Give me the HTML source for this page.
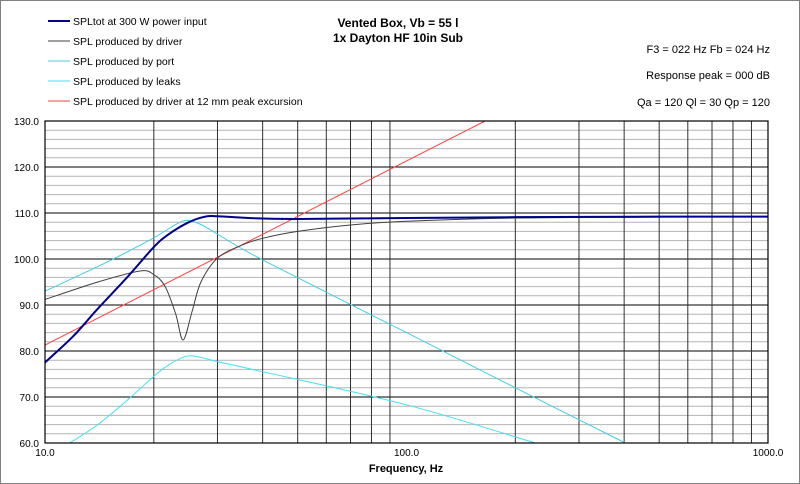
<!DOCTYPE html>
<html><head><meta charset="utf-8"><style>
html,body{margin:0;padding:0;background:#fff}
svg{display:block;font-family:"Liberation Sans",Arial,sans-serif}
</style></head><body>
<svg id="chart" width="800" height="484" viewBox="0 0 800 484">
<rect x="0.5" y="0.5" width="799" height="483" fill="#fff" stroke="#808080"/>
<g id="grid"></g>
<g id="series"></g>
<rect x="45" y="121" width="723" height="322" fill="none" stroke="#000" stroke-width="1.2"/>
<g id="ticks" font-size="10" fill="#000"></g>
<text x="406" y="472" text-anchor="middle" font-size="11" font-weight="bold">Frequency, Hz</text>
<g font-size="12" font-weight="bold" text-anchor="middle">
<text x="398" y="27">Vented Box, Vb = 55 l</text>
<text x="398" y="42">1x Dayton HF 10in Sub</text>
</g>
<g font-size="11" text-anchor="end">
<text x="770" y="53">F3 = 022 Hz  Fb = 024 Hz</text>
<text x="770" y="79">Response peak = 000 dB</text>
<text x="770" y="106">Qa = 120  Ql = 30  Qp = 120</text>
</g>
<g font-size="10.5">
<g><line x1="48" y1="21" x2="70" y2="21" stroke="#00008b" stroke-width="2"/><text x="73" y="25">SPLtot at 300 W power input</text></g>
<g><line x1="48" y1="41" x2="70" y2="41" stroke="#404040"/><text x="73" y="45">SPL produced by driver</text></g>
<g><line x1="48" y1="61" x2="70" y2="61" stroke="#40d0e0"/><text x="73" y="65">SPL produced by port</text></g>
<g><line x1="48" y1="81" x2="70" y2="81" stroke="#40e0f0"/><text x="73" y="85">SPL produced by leaks</text></g>
<g><line x1="48" y1="101" x2="70" y2="101" stroke="#ff4040"/><text x="73" y="105">SPL produced by driver at 12 mm peak excursion</text></g>
</g>
</svg>
<script>
const totFreq=[10,12,14,17,20,22,25,27.7,30,35,40,50,70,100,200,500,1000];
const totDb=[77.5,83.3,89.2,96.3,102.6,105.4,108.0,109.2,109.3,109.0,108.8,108.7,108.8,108.9,109.1,109.2,109.2];
const drvFreq=[10,14,18.3,20,21.5,23,24.1,25.5,27,30,35,40,50,70,100,200,500,1000];
const drvDb=[91.2,95,97.4,96.6,94,88,82.4,88.5,95,100.2,103,104.5,106,107.4,108.2,108.9,109.1,109.2];
const portFreq=[10,15,20,23,24.7,27,30,40,100,200,403];
const portDb=[93,99.5,104.6,107.5,108.4,107.5,105.4,99.8,84,72,60];
const leakFreq=[11.7,14,17,20,22,24.7,27,30,40,100,227];
const leakDb=[60,64,69.5,74.5,77,78.9,78.6,77.7,75.5,68.3,60];
const exFreq=[10,165];
const exDb=[81.3,130];
const yTicks=[60,70,80,90,100,110,120,130];
const xTickVals=[10,100,1000];
const xTickLabels=["10.0","100.0","1000.0"];

const X=f=>45+361.5*Math.log10(f/10);
const Y=v=>121+(130-v)*4.6;
const NS="http://www.w3.org/2000/svg";
function mk(tag,parent,attrs){const e=document.createElementNS(NS,tag);for(const k in attrs)e.setAttribute(k,attrs[k]);parent.appendChild(e);return e;}
const grid=document.getElementById('grid');
for(let v=62;v<130;v+=2){if(v%10===0)continue;
const l=mk('line',grid,{x1:45,x2:768,y1:Y(v),y2:Y(v),stroke:'#b4b4b4','stroke-width':1});

}
for(const v of yTicks){
const l=mk('line',grid,{x1:45,x2:768,y1:Y(v),y2:Y(v),stroke:'#000','stroke-width':1});

}
for(const d of [10,100]){for(let m=2;m<=9;m++){
const l=mk('line',grid,{x1:X(d*m),x2:X(d*m),y1:121,y2:443,stroke:'#303030','stroke-width':1});

}}
const ticks=document.getElementById('ticks');
for(const v of yTicks){
const t=mk('text',ticks,{x:39,y:Y(v)+4,'text-anchor':'end'});t.textContent=v.toFixed(1);

}
xTickVals.forEach((f,i)=>{
const t=mk('text',ticks,{x:X(f),y:456,'text-anchor':'middle'});t.textContent=xTickLabels[i];

});
function path(fs,vs){const p=fs.map((f,i)=>[X(f),Y(vs[i])]);
let d='M'+p[0][0]+','+p[0][1];
for(let i=0;i<p.length-1;i++){const p0=p[i-1]||p[i],p1=p[i],p2=p[i+1],p3=p[i+2]||p2;
const c1=[p1[0]+(p2[0]-p0[0])/6,p1[1]+(p2[1]-p0[1])/6],c2=[p2[0]-(p3[0]-p1[0])/6,p2[1]-(p3[1]-p1[1])/6];
d+=' C'+c1+' '+c2+' '+p2;}return d;}
const series=document.getElementById('series');
const defs=[[leakFreq,leakDb,'#40e0f0',1,'leaks-line'],[portFreq,portDb,'#40d0e0',1,'port-line'],[exFreq,exDb,'#ff4040',1,'excursion-line'],[drvFreq,drvDb,'#404040',1,'driver-line'],[totFreq,totDb,'#00008b',2,'total-spl-line']];
for(const [f,v,c,w,n] of defs){
const e=mk('path',series,{d:path(f,v),fill:'none',stroke:c,'stroke-width':w});

}
</script>
</body></html>
